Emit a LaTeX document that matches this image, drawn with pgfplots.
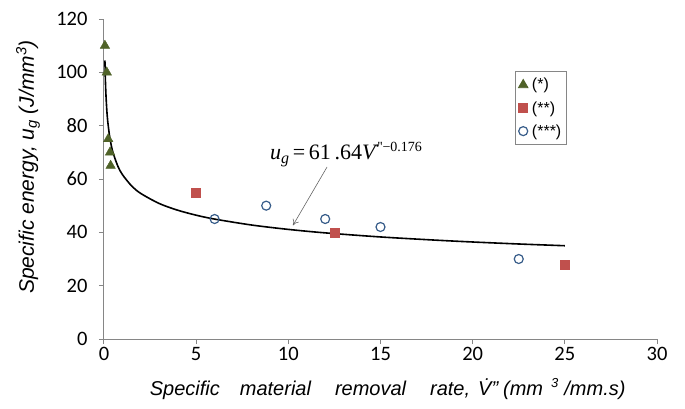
\documentclass[border=0pt]{standalone}
\usepackage{fontspec}
\setmainfont{Liberation Sans}
\newfontfamily\carlito{Carlito}
\newfontfamily\timesf{Liberation Serif}
\usepackage{pgfplots}
\pgfplotsset{compat=1.18}
\usetikzlibrary{arrows.meta}
\definecolor{tri}{RGB}{79,98,40}
\definecolor{sq}{RGB}{192,80,77}
\definecolor{circ}{RGB}{56,93,138}
\definecolor{axc}{RGB}{134,134,134}
\begin{document}
\begin{tikzpicture}
\begin{axis}[
  scale only axis, width=553pt, height=320pt,
  xmin=0, xmax=30, ymin=0, ymax=120,
  axis x line=bottom, axis y line=left,
  axis line style={-, draw=axc, line width=1pt},
  xtick={0,5,...,30}, ytick={0,20,...,120},
  tick align=outside, major tick length=5pt,
  tick style={axc, line width=1pt},
  ticklabel style={font=\carlito\fontsize{20.5}{24}\selectfont, text=black},
  yticklabel style={xshift=-8pt},
  /pgf/number format/assume math mode=true,
  clip=false,
  xlabel={\itshape\fontsize{20}{24}\selectfont Specific\hspace{20pt}material\hspace{24pt}removal\hspace{24pt}rate,\hspace{8pt}\.{V}"\hspace{5pt}(mm\hspace{8pt}\raisebox{0.7ex}{\fontsize{13}{15}\selectfont 3}\hspace{6pt}/mm.s)},
  xlabel style={at={(axis description cs:0.513,0)}, anchor=center, yshift=-50pt},
  ylabel={\itshape\fontsize{21}{24}\selectfont Specific energy, u\textsubscript{g} (J/mm\textsuperscript{3})},
  ylabel style={at={(axis description cs:-0.1374,0.5375)}, anchor=center},
  legend style={at={(axis cs:22.3,100.5)}, anchor=north west, draw=axc, line width=0.8pt,
    font=\fontsize{16}{19}\selectfont, row sep=6pt, inner xsep=3pt, inner ysep=5pt},
  legend cell align=left,
]
\addplot[only marks, mark=triangle*, mark size=5.5pt, color=tri, mark options={fill=tri, draw=tri}]
  coordinates {(0.05,110) (0.15,100) (0.23,75) (0.33,70) (0.36,65)};
\addlegendentry{\hspace{2pt}(*)}
\addplot[only marks, mark=square*, mark size=4.5pt, color=sq, mark options={fill=sq, draw=sq}]
  coordinates {(5,55) (12.5,40) (25,28)};
\addlegendentry{\hspace{2pt}(**)}
\addplot[only marks, mark=o, mark size=4.5pt, color=circ, mark options={line width=1.2pt, draw=circ, fill=white}]
  coordinates {(6,45) (8.8,50) (12,45) (15,42) (22.5,30)};
\addlegendentry{\hspace{2pt}(***)}
\addplot[black, line width=1.6pt, smooth, forget plot] coordinates {
(0.05,104.44) (0.07,98.43) (0.1,92.45) (0.15,86.07) (0.2,81.83) (0.3,76.19) (0.4,72.43)
(0.5,69.64) (0.75,64.84) (1,61.64) (1.5,57.39) (2,54.56) (3,50.80) (4,48.29) (5,46.43)
(6,44.97) (8,42.75) (10,41.10) (12,39.80) (15,38.27) (18,37.07) (20,36.38) (22.5,35.63) (25,34.98)};
\draw[gray!80!black, line width=0.6pt, -{To[length=6pt,width=7pt]}] (axis cs:12.1,64.5) -- (axis cs:10.25,42.6);
\node[anchor=base west, inner sep=0pt, font=\timesf\fontsize{22}{26}\selectfont] at (axis cs:9.0,67.5)
  {\textit{u}\raisebox{-0.45ex}{\fontsize{16}{18}\selectfont\textit{g}}\,=\,61\,.64\.{\textit{V}}\raisebox{0.75ex}{\fontsize{14}{16}\selectfont ''\textminus 0.176}};
\end{axis}
\pgfresetboundingbox
\path (-104pt,-69pt) rectangle (581pt,339pt);
\end{tikzpicture}
\end{document}
